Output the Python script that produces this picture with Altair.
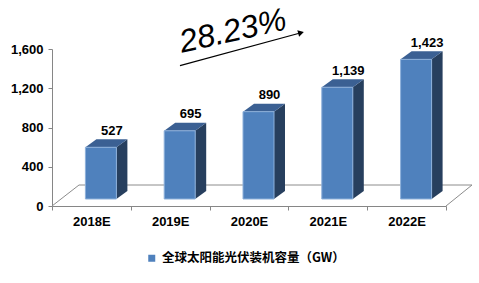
import altair as alt
import pandas as pd

# ---- data ----
years = ["2018E", "2019E", "2020E", "2021E", "2022E"]
capacity = [527, 695, 890, 1139, 1423]
series_name = "全球太阳能光伏装机容量（GW）"
growth_label = ["28.23%"]
y_ticks = [0, 400, 800, 1200, 1600]

# ---- layout / style constants ----
W, H = 394, 157
Y_MAX = 1600
N = len(years)
BAND = W / N            # px per category
PXV = H / Y_MAX         # px per unit on y

BAR_W = 31
BAR_DX = 9.5            # front face shift from band centre (px)
BASE_DY = -7            # bars sit this far above the axis (px)
DEPTH_X = 11            # 3D depth of bars (px)
DEPTH_Y = 8
FLOOR_DX, FLOOR_DY = 27, 21

FRONT = "#4F81BD"
FRONT_EDGE = "#8DB0DA"
TOP = "#3B6093"
SIDE = "#273F5E"
FLOOR = "#8C8C8C"
AXIS = "#868686"
LATIN = "Liberation Sans"
CJK = "Noto Sans CJK SC"

df = pd.DataFrame({"year": years, "value": capacity,
                   "idx": list(range(N)), "series": [series_name] * N})
base = alt.Chart(df)

x_lin = alt.Scale(domain=[0, N], nice=False, zero=False)
y_sc = alt.Scale(domain=[0, Y_MAX], nice=False, zero=True)
x_band = alt.Scale(domain=years, paddingInner=0, paddingOuter=0)

# ---- 3D geometry computed from the data ----
geo = (base
       .transform_calculate(k="[0, 1]")
       .transform_flatten(["k"])
       .transform_calculate(
           sx=f"datum.idx + 0.5 + ({BAR_DX + BAR_W / 2} + datum.k * {DEPTH_X}) / {BAND}",
           sy_top=f"datum.value + datum.k * {DEPTH_Y / PXV}",
           sy_bot=f"datum.k * {DEPTH_Y / PXV}",
           tx1=f"datum.idx + 0.5 + ({BAR_DX - BAR_W / 2} + datum.k * {DEPTH_X}) / {BAND}",
           tx2=f"datum.idx + 0.5 + ({BAR_DX + BAR_W / 2} + datum.k * {DEPTH_X}) / {BAND}",
       ))

sides = geo.mark_area(orient="vertical", fill=SIDE, yOffset=BASE_DY, y2Offset=BASE_DY).encode(
    x=alt.X("sx:Q", scale=x_lin, axis=None),
    y=alt.Y("sy_top:Q", scale=y_sc, axis=None, stack=None),
    y2="sy_bot:Q",
    detail="year:N",
)

tops = geo.mark_area(orient="horizontal", fill=TOP, yOffset=BASE_DY).encode(
    y=alt.Y("sy_top:Q", scale=y_sc, axis=None, stack=None),
    x=alt.X("tx1:Q", scale=x_lin, axis=None),
    x2="tx2:Q",
    detail="year:N",
)

# ---- floor outline ----
one = alt.Chart(pd.DataFrame({"a": [0]}))
floor_back = one.mark_rule(color=FLOOR, strokeWidth=1, xOffset=FLOOR_DX,
                           x2Offset=FLOOR_DX - 1, yOffset=-FLOOR_DY).encode(
    x=alt.X(datum=0, type="quantitative", scale=x_lin, axis=None),
    x2=alt.datum(N),
    y=alt.Y(datum=0, type="quantitative", scale=y_sc, axis=None),
)
floor_left = one.mark_rule(color=FLOOR, strokeWidth=1, x2Offset=FLOOR_DX,
                           y2Offset=-FLOOR_DY).encode(
    x=alt.X(datum=0, type="quantitative", scale=x_lin, axis=None),
    x2=alt.datum(0),
    y=alt.Y(datum=0, type="quantitative", scale=y_sc, axis=None),
    y2=alt.datum(0),
)
floor_right = one.mark_rule(color=FLOOR, strokeWidth=1, x2Offset=FLOOR_DX - 1,
                            y2Offset=-FLOOR_DY).encode(
    x=alt.X(datum=N, type="quantitative", scale=x_lin, axis=None),
    x2=alt.datum(N),
    y=alt.Y(datum=0, type="quantitative", scale=y_sc, axis=None),
    y2=alt.datum(0),
)

# ---- front faces (carry the axes and legend) ----
front = base.mark_bar(size=BAR_W, xOffset=BAR_DX, yOffset=BASE_DY, y2Offset=BASE_DY,
                      stroke=FRONT_EDGE, strokeWidth=1).encode(
    x=alt.X("year:N", scale=x_band, sort=years,
            axis=alt.Axis(title=None, labelAngle=0, tickBand="extent", tickSize=4,
                          tickColor=AXIS, domainColor=AXIS, grid=False, orient="bottom",
                          labelFont=LATIN, labelFontSize=13, labelFontWeight="bold",
                          labelColor="#000000", labelPadding=5)),
    y=alt.Y("value:Q", scale=y_sc, stack=None,
            axis=alt.Axis(title=None, values=y_ticks, format=",.0f", tickSize=4,
                          tickColor=AXIS, domainColor=AXIS, grid=False, orient="left",
                          labelFont=LATIN, labelFontSize=13, labelFontWeight="bold",
                          labelColor="#000000", labelPadding=5)),
    y2=alt.datum(0),
    color=alt.Color("series:N", scale=alt.Scale(domain=[series_name], range=[FRONT]),
                    legend=alt.Legend(title=None, orient="none", legendX=93.5, legendY=203,
                                      symbolType="square", symbolSize=49,
                                      symbolStrokeWidth=0, padding=0, labelOffset=4,
                                      labelLimit=400,
                                      labelFont=CJK, labelFontSize=12.5,
                                      labelFontWeight="bold", labelColor="#000000")),
)

labels = base.mark_text(dx=20.5, dy=-23.5, fontSize=13, fontWeight="bold", font=LATIN,
                        color="#000000", baseline="middle", align="center").encode(
    x=alt.X("year:N", scale=x_band, sort=years, axis=None),
    y=alt.Y("value:Q", scale=y_sc, axis=None, stack=None),
    text=alt.Text("value:Q", format=","),
)

# ---- growth annotation ----
ann = alt.Chart(pd.DataFrame({"label": growth_label}))
growth_text = ann.mark_text(font=LATIN, fontSize=32, fontStyle="italic", align="left",
                            baseline="alphabetic", angle=347.5, color="#000000").encode(
    x=alt.value(130), y=alt.value(3.7), text="label:N")
arrow_line = ann.mark_rule(color="#000000", strokeWidth=1.2).encode(
    x=alt.value(128), y=alt.value(16.7), x2=alt.value(250), y2=alt.value(-16.5))
arrow_head = ann.mark_point(shape="triangle-right", filled=True, size=45, angle=344.8,
                            color="#000000", opacity=1).encode(
    x=alt.value(249), y=alt.value(-16.2))

chart = alt.layer(
    floor_back, floor_left, floor_right, sides, tops, front, labels,
    growth_text, arrow_line, arrow_head,
).resolve_scale(x="independent").resolve_axis(x="independent", y="independent").properties(
    width=W, height=H,
    autosize=alt.AutoSizeParams(type="none"),
    padding={"left": 52, "top": 49, "right": 33, "bottom": 77},
    background="#ffffff",
).configure_view(stroke=None)

chart.save("out.html", embed_options={"renderer": "svg", "actions": False})
